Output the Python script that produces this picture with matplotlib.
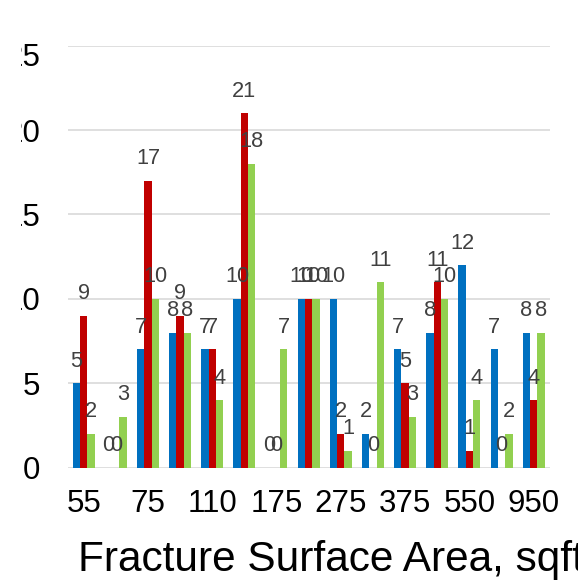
import matplotlib
matplotlib.use("Agg")
import matplotlib.pyplot as plt
import numpy as np
from matplotlib.transforms import Bbox, TransformedBbox, ScaledTranslation

# every other category label is hidden in the source chart (Excel skips them)
shown_labels = ["55", "75", "110", "175", "275", "375", "550", "950"]
n_groups = 15

blue_vals = [5, 0, 7, 8, 7, 10, 0, 10, 10, 2, 7, 8, 12, 7, 8]
red_vals = [9, 0, 17, 9, 7, 21, 0, 10, 2, 0, 5, 11, 1, 0, 4]
green_vals = [2, 3, 10, 8, 4, 18, 7, 10, 1, 11, 3, 10, 4, 2, 8]

y_ticks = [0, 5, 10, 15, 20, 25]

plt.rcParams.update({"font.family": ["Liberation Sans", "DejaVu Sans"]})

W, H = 578, 584
fig = plt.figure(figsize=(W / 100, H / 100), dpi=100)
ax = fig.add_axes([67.6 / W, (H - 467.5) / H, 482.2 / W, 421.8 / H])

x = np.arange(n_groups)
width = 0.227
series = [(blue_vals, "#0070C0"), (red_vals, "#C00000"), (green_vals, "#92D050")]
for i, (vals, col) in enumerate(series):
    bars = ax.bar(x + (i - 1) * width, vals, width, color=col, zorder=2)
    ax.bar_label(bars, padding=8.2, fontsize=15.7, color="#404040")

ax.set_xlim(-0.5, n_groups - 0.5)
ax.set_ylim(0, 25)
ax.set_yticks(y_ticks)
ax.set_xticks(x[::2])
ax.set_xticklabels(shown_labels)
ax.tick_params(axis="x", length=0, pad=15.5, labelsize=22.5, colors="black")
ax.tick_params(axis="y", length=0, pad=19.5, labelsize=22.5, colors="black")
ax.grid(axis="y", color="#D9D9D9", lw=1.2)
ax.set_axisbelow(True)
for s in ax.spines.values():
    s.set_visible(False)

# the source image is cropped on the left: clip the y tick labels the same way
clip = TransformedBbox(Bbox([[21 / W, 0], [1, 1]]), fig.transFigure)
yt = ax.yaxis.get_major_ticks()
for t in yt:
    t.label1.set_clip_box(clip)
    t.label1.set_clip_on(True)
# top label sits a little below its gridline in the source
yt[-1].label1.set_transform(yt[-1].label1.get_transform()
                            + ScaledTranslation(0, -9 / 100, fig.dpi_scale_trans))

ax.set_xlabel("Fracture Surface Area, sqft", fontsize=30.5, ha="left", va="baseline")
ax.xaxis.set_label_coords((78 - 67.6) / 482.2, (467.5 - 571.5) / 421.8)

fig.savefig("out.png", dpi=100)
